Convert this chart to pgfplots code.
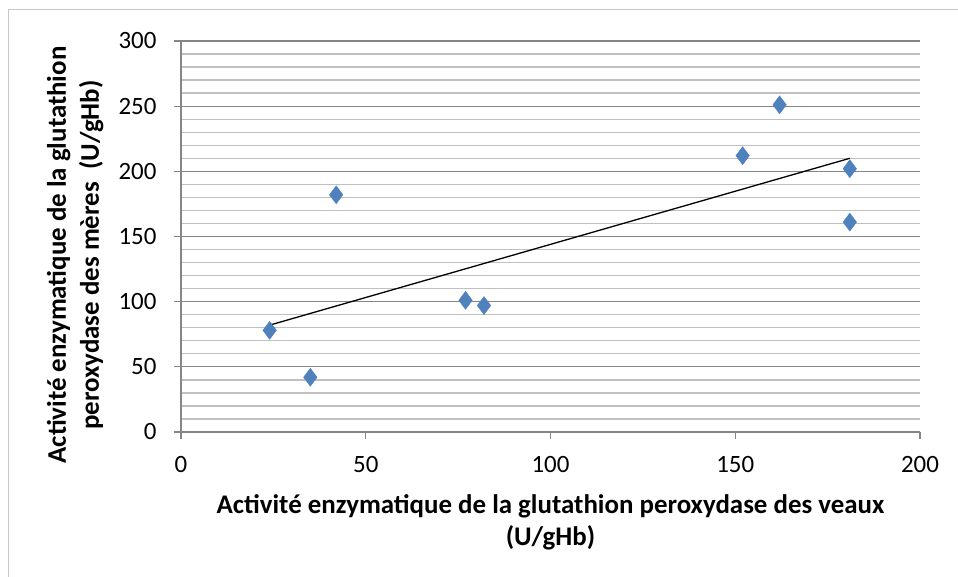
\documentclass[border=0pt]{standalone}
\usepackage{fontspec}
\setmainfont{Carlito}
\usepackage{pgfplots}
\pgfplotsset{compat=1.18}
\definecolor{majgrid}{RGB}{134,134,134}
\definecolor{mingrid}{RGB}{192,192,192}
\definecolor{ptblue}{RGB}{79,129,189}
\definecolor{frame}{RGB}{200,200,200}
\begin{document}
\begin{tikzpicture}[x=1bp,y=1bp]
\useasboundingbox (-181,-145) rectangle (777,432);
\draw[color=frame, line width=1bp] (-172,422) rectangle (800,-170);
\begin{axis}[
  at={(0,0)}, anchor=south west,
  scale only axis, width=739bp, height=391bp,
  xmin=0, xmax=200, ymin=0, ymax=300,
  xtick={0,50,100,150,200}, ytick={0,50,100,150,200,250,300},
  minor y tick num=4,
  ymajorgrids, yminorgrids,
  major grid style={color=majgrid, line width=1.3bp},
  minor grid style={color=mingrid, line width=1.3bp},
  axis x line=bottom, axis y line=left,
  axis line style={-, color=majgrid, line width=1.3bp},
  tick align=outside,
  major tick length=7bp, minor tick length=0bp,
  major tick style={color=majgrid, line width=1.3bp},
  /pgf/number format/assume math mode=true,
  tick label style={font=\fontsize{25}{25}\selectfont, text=black},
  xticklabel style={yshift=-14bp},
  yticklabel style={xshift=-14bp},
  clip=false,
]
\addplot[only marks, mark=diamond*, mark size=9bp, mark options={fill=ptblue, draw=ptblue}]
coordinates {
(24,78) (35,42) (42,182) (77,101) (82,97) (152,212) (162,251) (181,202) (181,161)
};
\addplot[black, line width=1.3bp] coordinates {(24,82) (181,210)};
\end{axis}
\node[anchor=base, font=\fontsize{27}{27}\selectfont\bfseries] at (369.5,-82) {Activité enzymatique de la glutathion peroxydase des veaux};
\node[anchor=base, font=\fontsize{27}{27}\selectfont\bfseries] at (369.5,-114) {(U/gHb)};
\node[rotate=90, anchor=base, font=\fontsize{27}{27}\selectfont\bfseries] at (-115,177) {Activité enzymatique de la glutathion};
\node[rotate=90, anchor=base, font=\fontsize{27}{27}\selectfont\bfseries] at (-82,177) {peroxydase des mères\ \ (U/gHb)};
\end{tikzpicture}
\end{document}
